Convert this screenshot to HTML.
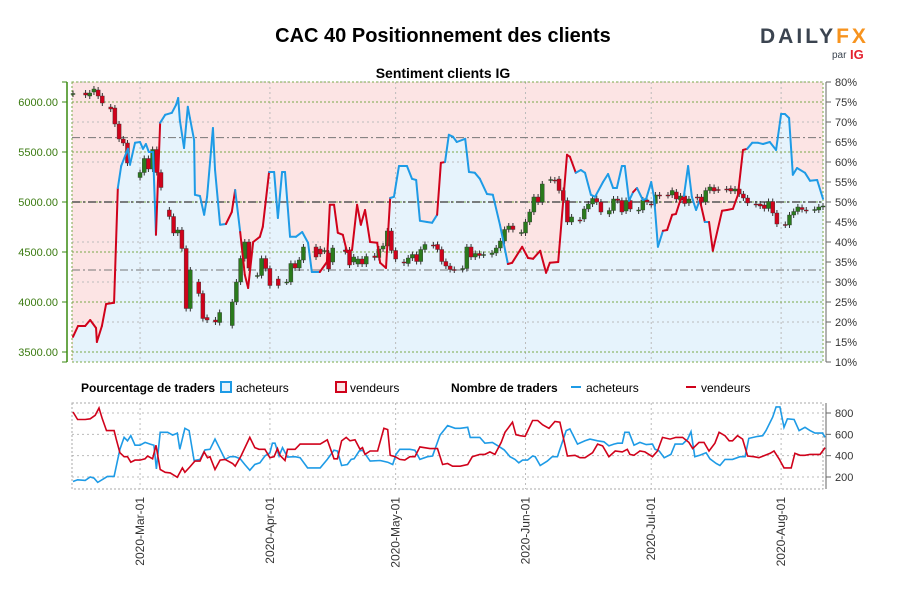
<!DOCTYPE html>
<html><head><meta charset="utf-8"><style>
body{margin:0;background:#fff;width:900px;height:600px;overflow:hidden;font-family:"Liberation Sans",sans-serif}
svg text{font-family:"Liberation Sans",sans-serif}
.n{font-family:"Liberation Sans Narrow","Liberation Sans",sans-serif}
</style></head><body>
<svg id="c" width="900" height="600" viewBox="0 0 900 600">
<text x="443" y="42" text-anchor="middle" font-size="20" font-weight="bold" fill="#000">CAC 40 Positionnement des clients</text>
<g>
<text x="760" y="43" font-size="21" font-weight="bold" fill="#3b4450" letter-spacing="3">DA<tspan>I</tspan>LY<tspan fill="#f7931e">FX</tspan></text>
<text x="832" y="58" font-size="10" fill="#3b4450">par</text>
<text x="850" y="59" font-size="13" font-weight="bold" fill="#e4202e">IG</text>
</g>
<text x="443" y="78" text-anchor="middle" font-size="14" font-weight="bold">Sentiment clients IG</text>
<g id="main"></g>
<g id="legend" class="n" font-size="12">
<text x="81" y="392" font-weight="bold">Pourcentage de traders</text>
<rect x="221" y="382" width="10" height="10" fill="#e6f3fc" stroke="#1e9be6" stroke-width="2"/>
<text x="236" y="392">acheteurs</text>
<rect x="336" y="382" width="10" height="10" fill="#fce4e4" stroke="#d0021b" stroke-width="2"/>
<text x="350" y="392">vendeurs</text>
<text x="451" y="392" font-weight="bold">Nombre de traders</text>
<rect x="571" y="386" width="10" height="2" fill="#1e9be6"/>
<text x="586" y="392">acheteurs</text>
<rect x="686" y="386" width="10" height="2" fill="#d0021b"/>
<text x="701" y="392">vendeurs</text>
</g>
<g id="bottom"></g>
</svg>
<script>
// ---- data ----
const monthLabels=["2020-Mar-01","2020-Apr-01","2020-May-01","2020-Jun-01","2020-Jul-01","2020-Aug-01"];
const monthDays=[16,47,77,108,138,169];
const priceTicks=[6000,5500,5000,4500,4000,3500];
const pctTicks=[80,75,70,65,60,55,50,45,40,35,30,25,20,15,10];
const countTicks=[800,600,400,200];
const lineDays=[0,1.2,2.9,4.1,5.5,5.7,6.9,7.9,9.8,10.7,11.5,13.1,13.6,14.8,16,16.7,17.4,18.1,19.1,19.8,20.8,22,23.6,24.6,25.1,25.5,26.5,27.4,27.9,28.9,29.1,30.3,31.3,32,33.4,33.9,35.1,36.5,37.9,38.7,39.9,41,41.8,43,44.6,45.3,46.8,48,48.9,49.9,50.6,51.8,53.2,54.7,56.1,57,58.9,60.6,61.3,62.3,63.2,64.4,65.4,66.6,67.8,68.7,69.7,70.9,72.6,73.3,74.7,75.7,76.6,77.8,79.7,80.9,81.9,82.8,84.5,85.7,86.9,87.8,88.8,89.7,90.7,91.6,93.6,94.5,95.9,97.1,98.8,100.2,101.9,103.8,104.8,107.2,108.6,109.8,111.5,112.9,113.8,115.8,117.9,118.6,120,121.2,122.2,123.6,124.6,126.5,127.7,128.9,129.8,131,131.7,132.7,133.7,134.6,136,136.8,138,138.7,139.6,140.8,141.8,143,143.9,144.9,145.8,146.8,147.7,148.7,149.6,150.8,151.8,152.7,154.9,156.1,157.5,158.7,159.9,160.9,162.1,163.5,164.7,166.3,167.8,169,169.9,170.9,171.8,172.8,174.7,175.9,177.6,179];
const linePct=[16.3,19,19,20.5,18.5,15,19,24.5,24.8,53.5,59,63.3,59.3,64.8,65,63.3,64.5,62.5,62.5,41.8,69.8,71.8,72.3,74.3,76,70.5,63.5,73.8,71,65.5,51.8,51.5,46.8,51.3,68.5,58,44.3,44.5,47.5,53,42.5,31.8,28.5,40,41.3,43.8,57.5,57.5,46,57.5,57.5,41.3,41.3,42.5,39.8,32.5,32.5,35,49.3,49.3,42.3,41.8,37.5,38,49.3,44.3,48,40,39.8,34.8,33.5,51,51.3,59,59,55.8,55.5,45.3,45,44.8,46.8,59.8,60,66.8,66.3,65,65.8,57.5,57.3,55.8,52,51.8,44.3,34.5,34.8,38.8,36,35.8,37.8,32.3,34.8,35,61.8,61.3,57.3,58,57.3,51.8,51.3,55,57,53.5,53.5,59,59,50.3,52.5,53.5,50.5,50.8,55,51,38.8,42.8,43,46.8,47,50.3,51.5,59,51.3,48,50.5,45,45,37.8,47.8,48,48.3,51.8,63,63.3,64.8,64.8,64.5,65,63,72,72,71,56.8,58.5,57.3,55.3,55.5,50.8];
const lineSignal="rrrrrrrrrrbbbbbbbbbbrbbbbbbbbbbbbbbbbbrrbrrrrrrbbbbbbbbbbrrrrrrrrrrrrrrrbbbbbbbbbrrbbbbbbbbbbbrrrrrrrrrrrbbbbbbbbbbbbrbbbbbbrrrrrbbbbrbrrrrrrrbbbbbbbbbbbbbbbbb";
const candleDays=[0,3,4,5,6,7,9,10,11,12,13,16,17,18,19,20,21,23,24,25,26,27,28,30,31,32,34,35,38,39,40,41,42,44,45,46,47,49,51,52,53,54,55,58,59,60,61,62,65,66,67,68,69,70,72,73,74,75,76,77,79,80,81,82,83,84,86,87,88,89,90,91,93,94,95,96,97,98,100,101,102,103,104,105,107,108,109,110,111,112,114,115,116,117,118,119,121,122,123,124,125,126,128,129,130,131,132,133,135,136,137,138,139,140,142,143,144,145,146,147,149,150,151,152,153,154,156,157,158,159,160,161,163,164,165,166,167,168,170,171,172,173,174,175,177,178,179];
const candleOpen=[6080,6090,6060,6100,6120,6060,5950,5940,5780,5630,5590,5245,5295,5435,5330,5525,5295,4920,4855,4690,4720,4535,3935,4200,4085,3845,3820,3795,3765,4000,4200,4435,4600,4265,4265,4435,4335,4230,4200,4200,4385,4340,4420,4550,4530,4510,4490,4400,4520,4520,4400,4380,4430,4380,4460,4445,4530,4560,4710,4515,4400,4385,4440,4475,4405,4525,4570,4575,4525,4405,4360,4325,4325,4335,4550,4450,4485,4470,4475,4490,4540,4610,4725,4760,4690,4690,4800,4900,5050,5000,5220,5220,5230,5115,5015,4800,4820,4830,4930,4980,5035,5000,4880,4915,5030,5015,4910,5015,4910,4920,5020,4980,4985,5070,5070,5070,5100,5020,5060,4990,5050,5050,5000,5115,5145,5125,5130,5135,5110,5130,5080,5040,4980,4980,4970,4935,5005,4890,4775,4770,4870,4905,4945,4920,4920,4920,4950];
const candleClose=[6085,6070,6090,6130,6060,5990,5930,5780,5630,5590,5390,5295,5435,5330,5525,5295,5145,4855,4690,4720,4535,3935,4320,4085,3835,3820,3800,3895,4000,4200,4435,4600,4340,4265,4435,4335,4165,4165,4200,4385,4340,4420,4550,4450,4480,4515,4330,4540,4505,4370,4450,4430,4380,4455,4445,4530,4560,4710,4515,4430,4390,4440,4475,4405,4525,4575,4565,4525,4405,4360,4325,4320,4335,4550,4450,4485,4465,4475,4490,4540,4610,4725,4760,4725,4695,4800,4900,5050,5000,5180,5225,5215,5115,5015,4800,4850,4815,4930,4980,5035,5000,4900,4915,5030,5015,4900,5015,4930,4920,5020,5000,4975,5070,5060,5065,5115,5030,5060,4985,5030,5045,5000,5115,5150,5110,5120,5125,5110,5130,5080,5040,4990,4975,4960,4935,5005,4890,4780,4770,4870,4905,4950,4925,4915,4925,4950,4960];
const buyDays=[0,1.1,2.9,4.1,5,5.9,7.6,8.2,9.8,11.2,12.2,13,13.8,14.8,16,17.2,18.4,19.3,19.9,20.8,22.6,23.8,24.9,25.5,26.7,27.7,28.9,30.3,31.5,32.7,33.9,35.1,36.3,37.5,38.7,39.9,41,42.2,43.4,44.6,45.8,47,47.6,48.2,49.2,50,51.2,53,54.2,56,59,60.7,62.3,63.1,64.1,65.5,66.4,67.1,68.3,69.1,70.9,73.3,75.1,76.3,77.1,78,80.4,81.6,82.8,84.6,85.8,87.6,89.4,91.2,92.4,94.2,94.8,97.1,98.3,100.1,101.7,102.9,104.3,105.5,106.4,107.3,108.5,109.7,110.3,111.5,113.2,114.4,115.6,117.7,118.6,120.4,122.2,123.4,125.2,126.7,127.9,129.1,130,131.1,131.7,132.7,133.9,135.3,136.8,138.3,138.9,139.9,141.1,142.7,143.7,145.5,146.7,147.5,148.4,149.6,151.1,152,153.5,154.4,155.6,157.4,159.2,160.4,161.3,163.4,164.6,165.4,167,167.8,168.7,169.7,170.5,172.1,173.3,174.7,175.9,177.1,178.9,179.5];
const buyCount=[158,174,168,200,190,149,190,206,206,460,571,539,587,498,498,524,508,498,276,619,619,593,612,460,657,635,355,365,454,460,555,460,365,390,390,371,317,263,317,333,397,428,517,517,397,476,387,390,381,285,285,365,451,444,308,317,365,371,444,451,349,355,339,317,412,460,460,451,365,390,397,593,682,657,657,666,571,571,517,524,485,454,390,365,333,358,358,397,390,308,349,390,390,635,651,508,539,555,539,530,492,508,517,517,619,619,498,524,504,508,460,444,381,412,508,508,555,625,390,403,428,371,327,308,365,365,390,390,562,581,587,635,762,857,857,666,746,739,635,666,635,612,612,571];
const sellDays=[0,1.1,2.9,4.1,5.3,6.2,7,8,9.8,10.3,11.2,12.2,13,13.8,14.8,16,17.2,17.8,19,19.8,20.8,22,23.2,24.9,26.1,26.7,27.9,29.1,30.3,31.3,32.1,32.7,33.9,35.1,36.3,38.1,38.7,40.1,42.2,43.4,44.4,45.8,47,48,48.8,49.4,50.6,51.2,53,54.2,56.6,59,60.7,62.3,63.1,64.1,65.2,66.1,67.3,68.5,69.1,69.7,70.9,72.7,74.2,75.1,75.7,76.9,78,79.2,80.4,81.6,82.8,85.2,87,88.2,89.4,90.6,92.4,94.2,95.3,97.1,98.3,99.5,100.7,102.2,103.1,104.9,105.7,106.7,107.9,109.7,110.9,112.1,113.6,115,116.2,118,119.8,121,122.2,124,125.2,126.4,127.9,129.4,131.1,132.3,132.9,133.9,135.3,136.5,138.3,139.5,140.7,142.5,143.9,145.5,147,147.9,149.4,150.6,151.8,153.2,154.2,155.6,156.6,157.4,158.6,159.8,161,162.5,163.7,165.2,166.4,167.3,168.5,169.7,171.4,172.3,173.5,174.7,175.9,177.1,178.3,179.5];
const sellCount=[809,739,739,746,778,847,746,635,635,555,428,390,390,339,358,358,371,397,371,498,270,244,238,197,285,244,295,349,349,435,381,390,270,358,365,327,301,397,571,476,460,460,381,390,466,403,355,460,460,508,508,508,549,371,371,539,571,539,549,460,476,412,444,444,657,644,403,390,365,358,390,390,482,466,466,317,327,301,301,317,390,412,412,435,412,524,619,714,597,587,581,730,730,689,657,720,714,397,403,381,381,428,508,492,390,444,435,460,412,403,444,435,390,444,571,555,571,571,524,466,524,524,444,517,619,587,539,539,587,555,397,390,381,403,422,444,371,285,285,422,403,403,412,412,412,476];

// ---- scales ----
const X0=73,DX=4.19;
const xd=d=>X0+d*DX;
const yPct=p=>362-(p-10)*4;
const yPrice=p=>102+(6000-p)*0.1;
const yCnt=c=>413+(800-c)*64/600;
const NS="http://www.w3.org/2000/svg";
function mk(tag,parent,attrs){const e=document.createElementNS(NS,tag);for(const k in attrs)e.setAttribute(k,attrs[k]);parent.appendChild(e);return e;}
const main=document.getElementById('main'),bot=document.getElementById('bottom');
const L=72,R=823,T=82,B=362;

let bg=mk('rect',main,{x:L,y:T,width:R-L,height:B-T,fill:'#fce4e4'});


let ap=`M${xd(lineDays[0])},${B}`;
lineDays.forEach((d,i)=>ap+=` L${xd(d).toFixed(1)},${yPct(linePct[i]).toFixed(1)}`);
ap+=` L${xd(lineDays[lineDays.length-1])},${B} Z`;
let area=mk('path',main,{d:ap,fill:'#e6f3fc'});



monthDays.forEach(d=>{let g=mk('line',main,{x1:xd(d),x2:xd(d),y1:T,y2:B,stroke:'#bbb','stroke-dasharray':'2,3'});

});
[80,70,60,40,30,20].forEach(p=>{let g=mk('line',main,{x1:L,x2:R,y1:yPct(p),y2:yPct(p),stroke:'#bbb','stroke-dasharray':'2,3'});

});
priceTicks.forEach(p=>{let g=mk('line',main,{x1:L,x2:R,y1:yPrice(p),y2:yPrice(p),stroke:'#7aa84a','stroke-dasharray':'2,2'});

});
[66.1,33].forEach(p=>{let g=mk('line',main,{x1:L,x2:R,y1:yPct(p),y2:yPct(p),stroke:'#777','stroke-dasharray':'8,3,2,3'});

});
let mid=mk('line',main,{x1:L,x2:R,y1:yPct(50),y2:yPct(50),stroke:'#555','stroke-width':1.5,'stroke-dasharray':'8,3,2,3'});


let bord=mk('rect',main,{x:L,y:T,width:R-L,height:B-T,fill:'none',stroke:'#7aa84a','stroke-dasharray':'2,2'});



candleDays.forEach((d,i)=>{const o=candleOpen[i],c=candleClose[i],up=c>=o;const col=up?'#2a7a1c':'#d0021b';
const x=xd(d);const hi=Math.max(o,c),lo=Math.min(o,c);
let w=mk('line',main,{x1:x,x2:x,y1:yPrice(hi)-3,y2:yPrice(lo)+3,stroke:'#333','stroke-width':1});


let b=mk('rect',main,{x:x-2,y:yPrice(hi),width:4,height:Math.max(1,yPrice(lo)-yPrice(hi)),fill:col,stroke:'#333','stroke-width':0.4});

});

for(let i=1;i<lineDays.length;i++){const col=lineSignal[i]==='r'?'#d0021b':'#1e9be6';
let s=mk('line',main,{x1:xd(lineDays[i-1]),y1:yPct(linePct[i-1]),x2:xd(lineDays[i]),y2:yPct(linePct[i]),stroke:col,'stroke-width':2,'stroke-linecap':'round'});

}

let la=mk('line',main,{x1:67,x2:67,y1:T,y2:B,stroke:'#3a8a10','stroke-width':1.5});


priceTicks.forEach(p=>{mk('line',main,{x1:62,x2:67,y1:yPrice(p),y2:yPrice(p),stroke:'#3a8a10'});
let t=mk('text',main,{x:58,y:yPrice(p)+4,'text-anchor':'end','font-size':11,fill:'#3a7a10',class:'n'});t.textContent=p.toFixed(2);

});
mk('line',main,{x1:62,x2:67,y1:T,y2:T,stroke:'#3a8a10'});mk('line',main,{x1:62,x2:67,y1:B,y2:B,stroke:'#3a8a10'});
let ra=mk('line',main,{x1:826,x2:826,y1:T,y2:B,stroke:'#666'});


pctTicks.forEach(p=>{mk('line',main,{x1:826,x2:831,y1:yPct(p),y2:yPct(p),stroke:'#666'});
let t=mk('text',main,{x:835,y:yPct(p)+4,'font-size':11,fill:'#333',class:'n'});t.textContent=p+'%';

});

const BT=403,BB=489;
monthDays.forEach((d,i)=>{let g=mk('line',bot,{x1:xd(d),x2:xd(d),y1:BT,y2:BB,stroke:'#bbb','stroke-dasharray':'2,3'});


let t=mk('text',bot,{x:0,y:0,'text-anchor':'end','font-size':12,fill:'#333',class:'n',transform:`translate(${xd(d)+4},${497}) rotate(-90)`});t.textContent=monthLabels[i];

});
countTicks.forEach(c=>{let g=mk('line',bot,{x1:L,x2:R,y1:yCnt(c),y2:yCnt(c),stroke:'#bbb','stroke-dasharray':'2,3'});


mk('line',bot,{x1:826,x2:831,y1:yCnt(c),y2:yCnt(c),stroke:'#666'});
let t=mk('text',bot,{x:835,y:yCnt(c)+4,'font-size':11,fill:'#333',class:'n'});t.textContent=c;

});
let bb=mk('rect',bot,{x:L,y:BT,width:R-L,height:BB-BT,fill:'none',stroke:'#aaa','stroke-dasharray':'2,2'});


let ca=mk('line',bot,{x1:826,x2:826,y1:BT,y2:BB,stroke:'#666'});


function poly(days,vals,col,name){const pts=days.map((d,i)=>xd(d).toFixed(1)+','+yCnt(vals[i]).toFixed(1)).join(' ');
const p=mk('polyline',bot,{points:pts,fill:'none',stroke:col,'stroke-width':1.6});

}
poly(buyDays,buyCount,'#1e9be6','acheteurs-count-line');
poly(sellDays,sellCount,'#d0021b','vendeurs-count-line');
</script>
</body></html>
